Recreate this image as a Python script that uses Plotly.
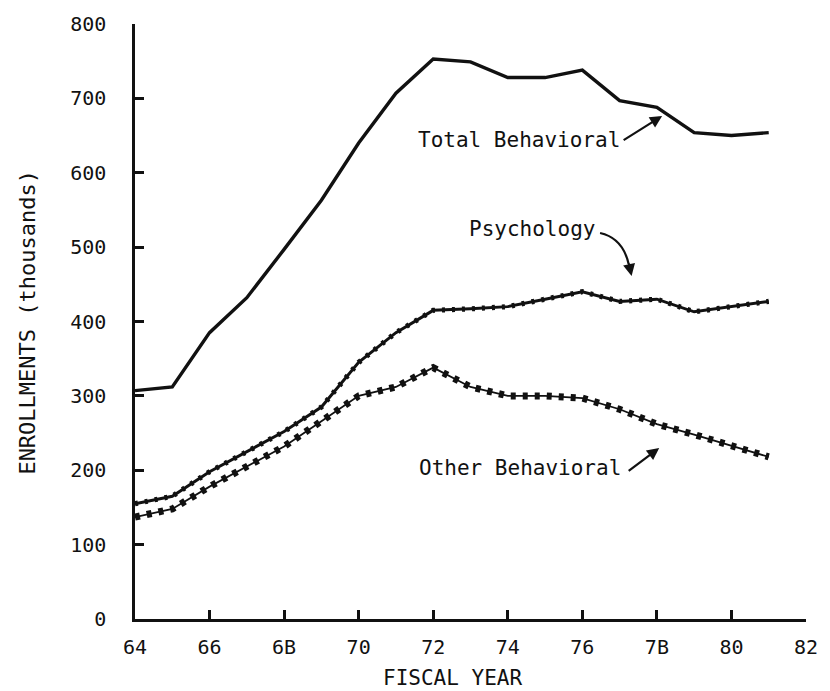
import plotly.graph_objects as go

# Fiscal years and enrollments (thousands)
years = [64, 65, 66, 67, 68, 69, 70, 71, 72, 73, 74, 75, 76, 77, 78, 79, 80, 81]
total_behavioral = [307, 312, 385, 432, 497, 563, 640, 707, 753, 749, 728, 728, 738, 697, 688, 654, 650, 654]
psychology = [155, 165, 198, 225, 252, 285, 345, 385, 415, 417, 420, 430, 440, 427, 430, 413, 420, 427]
other_behavioral = [137, 148, 178, 205, 232, 266, 300, 312, 338, 312, 300, 300, 297, 282, 262, 248, 233, 218]

x_tickvals = [64, 66, 68, 70, 72, 74, 76, 78, 80, 82]
x_ticktext = ["64", "66", "6B", "70", "72", "74", "76", "7B", "80", "82"]
y_tickvals = [0, 100, 200, 300, 400, 500, 600, 700, 800]

INK = "#111111"
MONO = "DejaVu Sans Mono"

fig = go.Figure()

# Total behavioral: plain heavy line
fig.add_trace(go.Scatter(x=years, y=total_behavioral, mode="lines",
                         line=dict(color=INK, width=3.4), hoverinfo="skip"))

# Psychology: heavy line with a beaded overlay for a rippled look
fig.add_trace(go.Scatter(x=years, y=psychology, mode="lines",
                         line=dict(color=INK, width=3.0), hoverinfo="skip"))
fig.add_trace(go.Scatter(x=years, y=psychology, mode="lines",
                         line=dict(color=INK, width=5.2, dash="3px,7px"), hoverinfo="skip"))

# Other behavioral: thin line threaded with bead-like dashes
fig.add_trace(go.Scatter(x=years, y=other_behavioral, mode="lines",
                         line=dict(color=INK, width=1.8), hoverinfo="skip"))
fig.add_trace(go.Scatter(x=years, y=other_behavioral, mode="lines",
                         line=dict(color=INK, width=7, dash="5px,7px"), hoverinfo="skip"))

label_font = dict(family=MONO, size=21, color=INK)

annotations = [
    dict(text="Total Behavioral", x=525, y=140),
    dict(text="Psychology", x=538, y=229),
    dict(text="Other Behavioral", x=526, y=468),
]

W, H = 830, 691
L, R, T, B = 135, 14, 24, 72
pw, ph = W - L - R, H - T - B


def to_paper(px, py):
    return (px - L) / pw, (H - B - py) / ph


layout_annotations = []
for a in annotations:
    xp, yp = to_paper(a["x"], a["y"])
    layout_annotations.append(dict(text=a["text"], xref="paper", yref="paper",
                                   x=xp, y=yp, xanchor="center", yanchor="middle",
                                   showarrow=False, font=label_font))

# Straight pointer arrows (tail, head in page pixels)
arrows = [((630, 141), (670, 116)),
          ((636, 262), (639, 276)),
          ((635, 472), (667, 448))]
for (tx, ty), (hx, hy) in arrows:
    xh, yh = to_paper(hx, hy)
    layout_annotations.append(dict(text="", xref="paper", yref="paper",
                                   axref="pixel", ayref="pixel",
                                   x=xh, y=yh, ax=tx - hx, ay=ty - hy, showarrow=True,
                                   arrowhead=2, arrowsize=1.1, arrowwidth=2.2,
                                   arrowcolor=INK))

# Curved shaft of the psychology pointer
p0 = to_paper(607, 233)
p1 = to_paper(630, 238)
p2 = to_paper(636, 264)
shapes = [dict(type="path", xref="paper", yref="paper",
               path=f"M {p0[0]},{p0[1]} Q {p1[0]},{p1[1]} {p2[0]},{p2[1]}",
               line=dict(color=INK, width=2.2))]

# Axis titles
xp, yp = to_paper(25, 322)
layout_annotations.append(dict(text="ENROLLMENTS (thousands)", xref="paper", yref="paper",
                               x=xp, y=yp, textangle=-90, showarrow=False,
                               xanchor="center", yanchor="middle",
                               font=dict(family=MONO, size=22, color=INK)))
xp, yp = to_paper(457, 678)
layout_annotations.append(dict(text="FISCAL YEAR", xref="paper", yref="paper",
                               x=xp, y=yp, showarrow=False,
                               xanchor="center", yanchor="middle",
                               font=dict(family=MONO, size=21, color=INK)))

fig.update_layout(
    width=W, height=H,
    margin=dict(l=L, r=R, t=T, b=B, pad=0),
    paper_bgcolor="white", plot_bgcolor="white",
    showlegend=False,
    annotations=layout_annotations,
    shapes=shapes,
    xaxis=dict(range=[64, 82], tickvals=x_tickvals, ticktext=x_ticktext,
               showgrid=False, zeroline=False, showline=True, linecolor=INK,
               linewidth=2.5, ticks="inside", ticklen=9, tickwidth=2.5,
               tickcolor=INK, ticklabelstandoff=8,
               tickfont=dict(family=MONO, size=20, color=INK)),
    yaxis=dict(range=[0, 800], tickvals=y_tickvals,
               showgrid=False, zeroline=False, showline=True, linecolor=INK,
               linewidth=2.5, ticks="inside", ticklen=9, tickwidth=2.5,
               tickcolor=INK, ticklabelstandoff=22,
               tickfont=dict(family=MONO, size=20, color=INK)),
)

fig.write_html("out.html")
